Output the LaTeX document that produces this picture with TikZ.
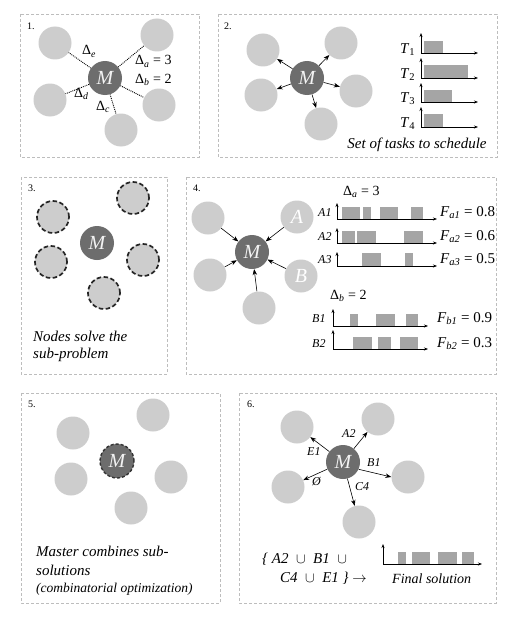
\documentclass[tikz,border=0pt]{standalone}
\usepackage{fontspec}
\setmainfont{Liberation Serif}
\usetikzlibrary{arrows.meta}
\definecolor{satgray}{HTML}{CDCDCD}
\definecolor{mastergray}{HTML}{6D6D6D}
\definecolor{bargray}{HTML}{A5A5A5}
\definecolor{panelgray}{HTML}{BDBDBD}
\definecolor{mtext}{HTML}{F2F2F2}
\begin{document}
\begin{tikzpicture}[x=1pt,y=-1pt,
  panel/.style={draw=panelgray, dash pattern=on 3pt off 2pt, line width=0.6pt},
  sat/.style={circle, fill=satgray, minimum size=33pt, inner sep=0pt, text=white, font=\fontsize{20}{20}\selectfont\itshape},
  satdash/.style={sat, draw=black!85, line width=1.7pt, dash pattern=on 4.5pt off 2.5pt, minimum size=32pt},
  master/.style={circle, fill=mastergray, minimum size=34pt, inner sep=0pt, text=mtext, font=\fontsize{20}{20}\selectfont\itshape},
  dotline/.style={densely dotted, line width=0.9pt},
  arr/.style={-{Stealth[length=6pt,width=4.5pt]}, line width=0.6pt},
  axis/.style={-{Stealth[length=4pt,width=3pt]}, line width=0.6pt},
  bar/.style={fill=bargray},
  num/.style={anchor=base west, inner sep=0pt, font=\fontsize{10}{12}\selectfont},
  lbl/.style={anchor=base west, inner sep=0pt, font=\fontsize{14}{16}\selectfont},
  big/.style={anchor=base west, inner sep=0pt, font=\fontsize{15}{18}\selectfont\itshape},
  small/.style={anchor=base west, inner sep=0pt, font=\fontsize{12}{14}\selectfont\itshape},
]
\fill[white] (0,0) rectangle (524,634);
\useasboundingbox (0,0) rectangle (524,634);

% panels
\draw[panel] (20,14) rectangle (199,157);
\draw[panel] (218,14) rectangle (497,157);
\draw[panel] (21,177) rectangle (167,374);
\draw[panel] (186,177) rectangle (496,374);
\draw[panel] (21,393) rectangle (220,603);
\draw[panel] (239,393) rectangle (496,603);

\node[num] (n1) at (27,30) {1.};
\node[num] (n2) at (224,30) {2.};
\node[num] (n3) at (28,191) {3.};
\node[num] (n4) at (193,191) {4.};
\node[num] (n5) at (28,407) {5.};
\node[num] (n6) at (247,407) {6.};

% ---------- panel 1
\node[master] (m1) at (105,78) {M};
\node[sat] (p1a) at (157,35) {};
\node[sat] (p1b) at (159,105) {};
\node[sat] (p1c) at (121,130) {};
\node[sat] (p1d) at (50,100) {};
\node[sat] (p1e) at (55,43) {};
\foreach \s in {p1a,p1b,p1c,p1d,p1e} \draw[dotline] (m1) -- (\s);
\node[lbl] (d1e) at (82,55) {Δ\textsubscript{\itshape e}};
\node[lbl] (d1a) at (135,65) {Δ\textsubscript{\itshape a} = 3};
\node[lbl] (d1b) at (135,83) {Δ\textsubscript{\itshape b} = 2};
\node[lbl] (d1d) at (74,97) {Δ\textsubscript{\itshape d}};
\node[lbl] (d1c) at (96,110) {Δ\textsubscript{\itshape c}};

% ---------- panel 2
\node[master] (m2) at (307,78) {M};
\node[sat] (p2a) at (263,50) {};
\node[sat] (p2b) at (341,43) {};
\node[sat] (p2c) at (261,95) {};
\node[sat] (p2d) at (356,91) {};
\node[sat] (p2e) at (321,124) {};
\foreach \s in {p2a,p2b,p2c,p2d,p2e} \draw[arr] (m2) -- (\s);

\foreach \i/\yb/\yt/\xe/\h in {1/53/33/443/12, 2/78/58/468/13, 3/102/83/452/12, 4/127/107/443/13}{
  \coordinate (t\i o) at (421,\yb);
  \coordinate (t\i u) at (421,\yt);
  \coordinate (t\i r) at (478,\yb);
  \draw[axis] (t\i o) -- (t\i u);
  \draw[axis] (t\i o) -- (t\i r);
  \fill[bar] (424,\yb) rectangle (\xe,\yb-\h);
  \node[anchor=base west, inner sep=0pt, font=\fontsize{15}{18}\selectfont] (tl\i) at (400,\yb) {\textit{T}\textsubscript{\i}};
}
\node[inner sep=0pt, font=\fontsize{15}{18}\selectfont\itshape] (tasks) at (417,145) {Set of tasks to schedule};

% ---------- panel 3
\node[master] (m3) at (97,243) {M};
\node[satdash] (p3a) at (53,217) {};
\node[satdash] (p3b) at (133,198) {};
\node[satdash] (p3c) at (51,262) {};
\node[satdash] (p3d) at (143,260) {};
\node[satdash] (p3e) at (104,293) {};
\node[big] (t3a) at (33,341) {Nodes solve the};
\node[big] (t3b) at (33,358) {sub-problem};

% ---------- panel 4
\node[master] (m4) at (252,252) {M};
\node[sat] (p4a) at (208,218) {};
\node[sat] (p4A) at (297,217) {A};
\node[sat] (p4c) at (210,275) {};
\node[sat] (p4B) at (301,276) {B};
\node[sat] (p4e) at (259,308) {};
\foreach \s in {p4a,p4A,p4c,p4B,p4e} \draw[arr] (\s) -- (m4);

\node[lbl] (da4) at (343,195) {Δ\textsubscript{\itshape a} = 3};
\node[lbl] (db4) at (330,299) {Δ\textsubscript{\itshape b} = 2};

% A charts
\foreach \i/\yb/\yt in {1/219/203, 2/243/228, 3/266/252}{
  \coordinate (a\i o) at (337,\yb);
  \coordinate (a\i u) at (337,\yt);
  \coordinate (a\i r) at (437,\yb);
  \draw[axis] (a\i o) -- (a\i u);
  \draw[axis] (a\i o) -- (a\i r);
  \node[small] (al\i) at (318,\yb-3) {A\i};
}
\foreach \a/\b in {341.7/360, 363.3/371, 380/398.3, 411/423.3} \fill[bar] (\a,219) rectangle (\b,207);
\foreach \a/\b in {341.7/355, 357.3/376, 404/422.7} \fill[bar] (\a,243) rectangle (\b,231);
\foreach \a/\b in {362.3/381, 405/412.7} \fill[bar] (\a,266) rectangle (\b,253);
\node[lbl, font=\fontsize{15}{18}\selectfont] (fa1) at (440,216) {\textit{F}\textsubscript{\itshape a1} = 0.8};
\node[lbl, font=\fontsize{15}{18}\selectfont] (fa2) at (440,240) {\textit{F}\textsubscript{\itshape a2} = 0.6};
\node[lbl, font=\fontsize{15}{18}\selectfont] (fa3) at (440,263) {\textit{F}\textsubscript{\itshape a3} = 0.5};

% B charts
\foreach \i/\yb/\yt in {1/326/309, 2/349/330}{
  \coordinate (b\i o) at (333,\yb);
  \coordinate (b\i u) at (333,\yt);
  \coordinate (b\i r) at (428,\yb);
  \draw[axis] (b\i o) -- (b\i u);
  \draw[axis] (b\i o) -- (b\i r);
}
\node[small] (bl1) at (312,322) {B1};
\node[small] (bl2) at (312,347) {B2};
\foreach \a/\b in {350/357.7, 376/395, 406/418.3} \fill[bar] (\a,326) rectangle (\b,314);
\foreach \a/\b in {353.3/372.3, 378.3/391, 400/418.3} \fill[bar] (\a,349) rectangle (\b,337);
\node[lbl, font=\fontsize{15}{18}\selectfont] (fb1) at (437,322) {\textit{F}\textsubscript{\itshape b1} = 0.9};
\node[lbl, font=\fontsize{15}{18}\selectfont] (fb2) at (437,347) {\textit{F}\textsubscript{\itshape b2} = 0.3};

% ---------- panel 5
\node[master, draw=black!80, line width=1.4pt, dash pattern=on 3pt off 2pt] (m5) at (117,461) {M};
\node[sat] (p5a) at (73,433) {};
\node[sat] (p5b) at (153,415) {};
\node[sat] (p5c) at (71,479) {};
\node[sat] (p5d) at (171,477) {};
\node[sat] (p5e) at (131,508) {};
\node[big] (t5a) at (36,556) {Master combines sub-};
\node[big] (t5b) at (36,575) {solutions};
\node[big, font=\fontsize{13.5}{16}\selectfont\itshape] (t5c) at (36,592) {(combinatorial optimization)};

% ---------- panel 6
\node[master] (m6) at (343,462) {M};
\node[sat] (p6a) at (297,427) {};
\node[sat] (p6b) at (378,419) {};
\node[sat] (p6c) at (288,487) {};
\node[sat] (p6d) at (408,477) {};
\node[sat] (p6e) at (359,522) {};
\draw[arr] (m6) -- (p6a);
\draw[arr] (m6) -- (p6b);
\draw[arr] (m6) -- (p6c);
\draw[arr] (m6.-25) -- (p6d.west);
\draw[arr] (m6) -- (p6e);
\node[small] (e6a) at (342,437) {A2};
\node[small] (e6e) at (307,455) {E1};
\node[small] (e6b) at (367,466) {B1};
\node[small] (e6o) at (312,485) {Ø};
\node[small] (e6c) at (355,490) {C4};

\node[big] (u1) at (262,563) {\{ A2\enspace$\cup$\enspace B1\enspace$\cup$};
\node[big] (u2) at (280,582) {C4\enspace$\cup$\enspace E1 \} $\rightarrow$};
\coordinate (fo) at (383,564);
\coordinate (fu) at (383,544);
\coordinate (fr) at (482,564);
\draw[axis] (fo) -- (fu);
\draw[axis] (fo) -- (fr);
\foreach \a/\b in {398.3/406, 411.7/430, 438.3/456.7, 461.7/474} \fill[bar] (\a,564) rectangle (\b,552);
\node[big, font=\fontsize{14}{16}\selectfont\itshape] (fin) at (392,583) {Final solution};
\end{tikzpicture}
\end{document}
